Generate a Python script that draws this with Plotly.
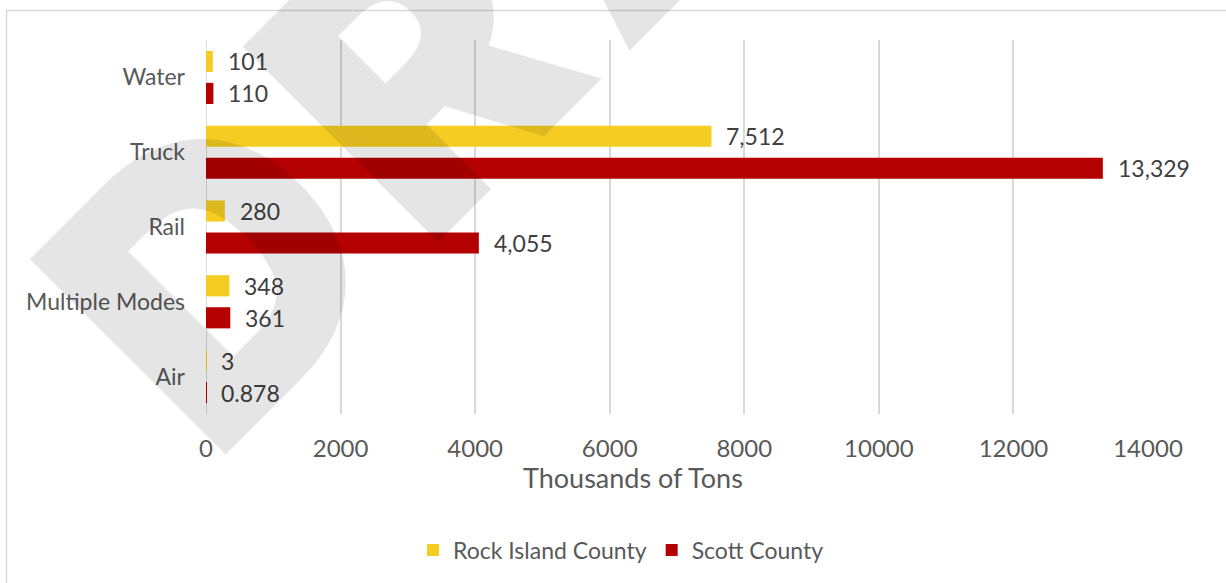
import plotly.graph_objects as go

# Freight tonnage by mode, thousands of tons
modes = ["Water", "Truck", "Rail", "Multiple Modes", "Air"]
rock_island = [101, 7512, 280, 348, 3]
scott = [110, 13329, 4055, 361, 0.878]
series_names = ["Rock Island County", "Scott County"]
series_colors = ["#F5CD22", "#B40000"]
x_ticks = [0, 2000, 4000, 6000, 8000, 10000, 12000, 14000]

W, H = 1226, 583
L, R, T, B = 206, 78, 40, 169
plot_w = W - L - R
plot_h = H - T - B


def px_x(px):
    return (px - L) / plot_w


def px_y(py):
    return 1 - (py - T) / plot_h


def fmt(v):
    return f"{v:,.0f}" if v >= 1 else f"{v:.3f}"


text_color = "#595959"
font_family = "Lato, 'Open Sans', sans-serif"

fig = go.Figure()
for name, vals, col in zip(series_names, [rock_island, scott], series_colors):
    fig.add_trace(go.Bar(
        y=modes, x=vals, name=name, orientation="h",
        marker=dict(color=col, line=dict(width=0)),
    ))

# value labels to the right of each bar
annotations = []
for vals, shift in zip([rock_island, scott], [16, -16]):
    for m, v in zip(modes, vals):
        annotations.append(dict(
            x=v, y=m, xref="x", yref="y", text=fmt(v), showarrow=False,
            xanchor="left", yanchor="middle", xshift=13, yshift=shift,
            font=dict(size=23, color="#404040", family=font_family),
        ))

# axis title centred on the chart frame
annotations.append(dict(
    x=px_x(633), y=px_y(477), xref="paper", yref="paper",
    text="Thousands of Tons", showarrow=False, xanchor="center", yanchor="middle",
    font=dict(size=27, color=text_color, family=font_family),
))

# DRAFT watermark (hair spaces widen the letter spacing)
annotations.append(dict(
    x=px_x(616), y=px_y(-131), xref="paper", yref="paper",
    text="\u200a".join("DRAFT"), showarrow=False, textangle=-45,
    xanchor="center", yanchor="middle",
    font=dict(size=380, color="rgba(0,0,0,0.1)", family="Inter", weight=900),
))

fig.update_layout(
    width=W, height=H,
    margin=dict(l=L, r=R, t=T, b=B),
    paper_bgcolor="white", plot_bgcolor="white",
    barmode="group", bargap=0.144, bargroupgap=0.34,
    font=dict(family=font_family, color=text_color, size=23),
    xaxis=dict(
        range=[0, 14000], tickvals=x_ticks, ticktext=[str(t) for t in x_ticks],
        showgrid=True, gridcolor="#D9D9D9", gridwidth=2,
        zeroline=False, showline=False, ticks="", ticklabelstandoff=18,
        tickfont=dict(size=24, color=text_color),
    ),
    yaxis=dict(
        autorange="reversed", showgrid=False, zeroline=False,
        showline=False, ticks="", ticklabelstandoff=20,
        tickfont=dict(size=23, color=text_color),
    ),
    legend=dict(
        orientation="h", x=px_x(621), y=px_y(550), xanchor="center", yanchor="middle",
        font=dict(size=23, color=text_color), itemwidth=30, traceorder="normal",
    ),
    annotations=annotations,
    shapes=[
        # zero baseline
        dict(type="line", xref="x", yref="paper", x0=0, x1=0, y0=0, y1=1,
             line=dict(color="#D9D9D9", width=2), layer="below"),
        # chart frame
        dict(type="rect", xref="paper", yref="paper",
             x0=px_x(6.5), x1=px_x(W + 40), y0=px_y(10.5), y1=px_y(H + 40),
             line=dict(color="#D9D9D9", width=1.5), layer="below"),
    ],
)

fig.write_html("out.html")
